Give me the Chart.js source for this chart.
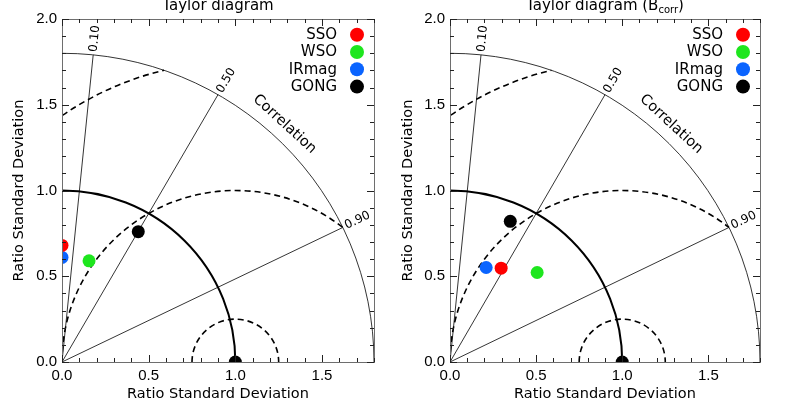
<!DOCTYPE html>
<html><head><meta charset="utf-8">
<script src="https://cdn.jsdelivr.net/npm/chart.js@4"></script>
<style>
html,body{margin:0;padding:0;background:#fff;overflow:hidden}
#wrap{position:relative;width:800px;height:416px}
canvas{position:absolute;top:0}
#c1{left:0}#c2{left:400px}
</style></head><body>
<div id="wrap"><canvas id="c1" width="400" height="416"></canvas><canvas id="c2" width="400" height="416"></canvas></div>
<script>
// ---- data ----
const categories = ['SSO', 'WSO', 'IRmag', 'GONG'];
const seriesColors = ['#ff0000', '#1ee61e', '#0a64ff', '#000000'];
const leftX = [0.00, 0.156, 0.00, 0.44];
const leftY = [0.68, 0.59, 0.61, 0.76];
const rightX = [0.297, 0.506, 0.21, 0.35];
const rightY = [0.547, 0.522, 0.551, 0.82];
const referencePoint = [1.0, 0.0];
const correlationTicks = ['0.10', '0.50', '0.90'];
const rmsRadii = [0.25, 1.0, 1.75];
const stdArcRadius = 1.0;
const outerRadius = 1.8;
const xTickLabels = ['0.0', '0.5', '1.0', '1.5'];
const yTickLabels = ['0.0', '0.5', '1.0', '1.5', '2.0'];
const titles = [['Taylor diagram', ''], ['Taylor diagram (B', 'corr', ')']];

const FONT = "'DejaVu Sans', sans-serif";
const TICKFONT = "'Liberation Sans', Arial, sans-serif";

function taylorPlugin(titleParts) {
  return {
    id: 'taylor',
    beforeDatasetsDraw(chart) {
      const {ctx, chartArea: a, scales: {x, y}} = chart;
      const ox = x.getPixelForValue(0), oy = y.getPixelForValue(0);
      const sx = x.getPixelForValue(1) - ox, sy = oy - y.getPixelForValue(1);
      ctx.save();
      ctx.beginPath(); ctx.rect(a.left, a.top, a.width, a.height); ctx.clip();
      ctx.strokeStyle = '#000';
      ctx.lineWidth = 0.8;
      correlationTicks.forEach(c => {
        const th = Math.acos(parseFloat(c));
        ctx.beginPath(); ctx.moveTo(ox, oy);
        ctx.lineTo(x.getPixelForValue(outerRadius * Math.cos(th)), y.getPixelForValue(outerRadius * Math.sin(th)));
        ctx.stroke();
      });
      ctx.beginPath(); ctx.ellipse(ox, oy, outerRadius * sx, outerRadius * sy, 0, -Math.PI / 2, 0); ctx.stroke();
      ctx.lineWidth = 2;
      ctx.beginPath(); ctx.ellipse(ox, oy, stdArcRadius * sx, stdArcRadius * sy, 0, -Math.PI / 2, 0); ctx.stroke();
      ctx.setLineDash([6, 4]); ctx.lineWidth = 1.6;
      const cx = referencePoint[0];
      rmsRadii.forEach(R => {
        let phi = 0;
        const xi = (outerRadius * outerRadius - R * R + cx * cx) / (2 * cx);
        if (xi < cx + R && xi > cx - R) phi = Math.acos((xi - cx) / R);
        ctx.beginPath();
        ctx.ellipse(x.getPixelForValue(cx), oy, R * sx, R * sy, 0, -Math.PI, -phi);
        ctx.stroke();
      });
      ctx.restore();
    },
    afterDraw(chart) {
      const {ctx, chartArea: a, scales: {x, y}} = chart;
      const ox = x.getPixelForValue(0), oy = y.getPixelForValue(0);
      const sx = x.getPixelForValue(1) - ox, sy = oy - y.getPixelForValue(1);
      ctx.save();
      // frame
      ctx.strokeStyle = '#6e6e6e'; ctx.lineWidth = 1;
      ctx.strokeRect(a.left + 0.5, a.top + 0.5, a.width, a.height);
      // ticks
      ctx.strokeStyle = '#222';
      for (let i = 0; i <= 18; i++) {
        const v = i / 10, px = Math.round(x.getPixelForValue(v)) + 0.5, L = i % 5 === 0 ? 7 : 4;
        ctx.beginPath(); ctx.moveTo(px, a.bottom); ctx.lineTo(px, a.bottom - L);
        ctx.moveTo(px, a.top); ctx.lineTo(px, a.top + L); ctx.stroke();
      }
      for (let i = 0; i <= 20; i++) {
        const v = i / 10, py = Math.round(y.getPixelForValue(v)) + 0.5, L = i % 5 === 0 ? 7 : 4;
        ctx.beginPath(); ctx.moveTo(a.left, py); ctx.lineTo(a.left + L, py);
        ctx.moveTo(a.right, py); ctx.lineTo(a.right - L, py); ctx.stroke();
      }
      // correlation labels
      ctx.fillStyle = '#000';
      ctx.font = '12px ' + FONT;
      ctx.textAlign = 'left'; ctx.textBaseline = 'middle';
      correlationTicks.forEach(c => {
        const th = Math.acos(parseFloat(c));
        const dx = Math.cos(th) * sx, dy = -Math.sin(th) * sy;
        const len = Math.hypot(dx, dy);
        const px = ox + dx * outerRadius + dx / len * 3, py = oy + dy * outerRadius + dy / len * 3;
        ctx.save(); ctx.translate(px, py); ctx.rotate(Math.atan2(dy, dx)); ctx.fillText(c, 0, 0); ctx.restore();
      });
      // "Correlation"
      {
        const th = 47.2 * Math.PI / 180, r = 1.89;
        const px = ox + r * Math.cos(th) * sx, py = oy - r * Math.sin(th) * sy;
        ctx.save(); ctx.translate(px, py);
        ctx.rotate(Math.atan2(Math.cos(th) * sy, Math.sin(th) * sx));
        ctx.font = '14.5px ' + FONT; ctx.textAlign = 'center'; ctx.fillText('Correlation', 0, 0);
        ctx.restore();
      }
      // legend
      ctx.font = '15px ' + FONT; ctx.textAlign = 'right'; ctx.textBaseline = 'middle';
      chart.data.datasets.forEach((ds, i) => {
        if (ds.label === 'Reference') return;
        const yy = a.top + 15.7 + i * 17.3, xc = a.right - 17;
        ctx.fillStyle = '#000'; ctx.fillText(ds.label, xc - 20, yy + 0.5);
        ctx.fillStyle = ds.backgroundColor;
        ctx.beginPath(); ctx.arc(xc, yy, 7, 0, Math.PI * 2); ctx.fill();
      });
      // title
      ctx.fillStyle = '#000'; ctx.textBaseline = 'alphabetic'; ctx.textAlign = 'left';
      const f1 = '15px ' + FONT, f2 = '10px ' + FONT;
      ctx.font = f1; let w = ctx.measureText(titleParts[0]).width;
      let w2 = 0, w3 = 0;
      if (titleParts[1]) { ctx.font = f2; w2 = ctx.measureText(titleParts[1]).width; ctx.font = f1; w3 = ctx.measureText(titleParts[2]).width; }
      let tx = (a.left + a.right) / 2 - (w + w2 + w3) / 2;
      ctx.font = f1; ctx.fillText(titleParts[0], tx, 10);
      if (titleParts[1]) {
        ctx.font = f2; ctx.fillText(titleParts[1], tx + w, 13);
        ctx.font = f1; ctx.fillText(titleParts[2], tx + w + w2, 10);
      }
      ctx.restore();
    }
  };
}

function makeChart(id, xs, ys, yAxisWidth, rightPad, yTitlePad, titleParts) {
  const datasets = categories.map((c, i) => ({
    label: c, data: [{x: xs[i], y: ys[i]}],
    backgroundColor: seriesColors[i], borderWidth: 0, pointRadius: 6.5, pointHoverRadius: 6.5, clip: 0
  }));
  datasets.push({label: 'Reference', data: [{x: referencePoint[0], y: referencePoint[1]}],
    backgroundColor: '#000', borderWidth: 0, pointRadius: 6.5, pointHoverRadius: 6.5, clip: 0});
  const axisTitle = (pad) => ({display: true, text: 'Ratio Standard Deviation', color: '#000',
    font: {family: FONT, size: 14.5}, padding: pad});
  return new Chart(document.getElementById(id), {
    type: 'scatter',
    data: {datasets},
    plugins: [taylorPlugin(titleParts)],
    options: {
      responsive: false, animation: false, devicePixelRatio: 1,
      layout: {padding: {left: 0, right: rightPad, top: 19, bottom: 0}},
      plugins: {legend: {display: false}, tooltip: {enabled: false}},
      scales: {
        x: {type: 'linear', min: 0, max: 1.8,
          ticks: {stepSize: 0.5, includeBounds: false, padding: 5, color: '#000',
            font: {family: TICKFONT, size: 15},
            callback: (v) => xTickLabels.find(t => Math.abs(parseFloat(t) - v) < 1e-6) || ''},
          grid: {display: false, drawTicks: false}, border: {display: false},
          title: axisTitle({top: 0, bottom: 13}),
          afterFit: (s) => { s.height = 54; }},
        y: {type: 'linear', min: 0, max: 2.0,
          ticks: {stepSize: 0.5, includeBounds: false, padding: 5, color: '#000',
            font: {family: TICKFONT, size: 15},
            callback: (v) => yTickLabels.find(t => Math.abs(parseFloat(t) - v) < 1e-6) || ''},
          grid: {display: false, drawTicks: false}, border: {display: false},
          title: axisTitle({top: yTitlePad, bottom: 0}),
          afterFit: (s) => { s.width = yAxisWidth; }}
      }
    }
  });
}

makeChart('c1', leftX, leftY, 62, 26, 11, titles[0]);
makeChart('c2', rightX, rightY, 50, 40, 0, titles[1]);
</script></body></html>
